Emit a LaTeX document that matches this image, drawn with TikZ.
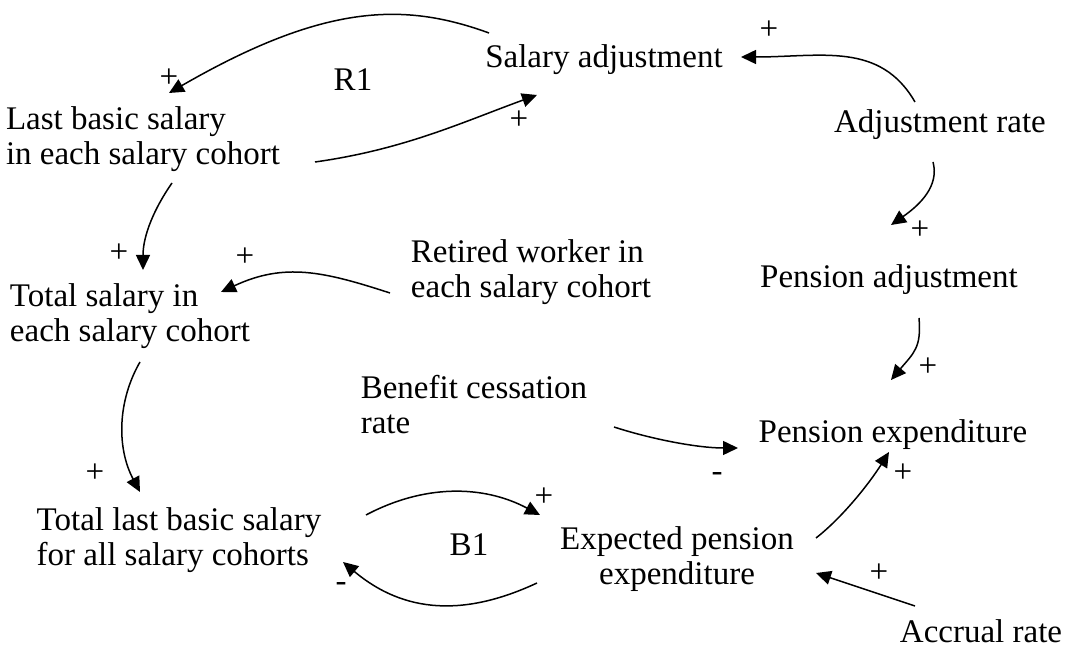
\documentclass[tikz,border=0pt]{standalone}
\usepackage{fontspec}
\setmainfont{Liberation Serif}
\usetikzlibrary{arrows.meta}

\begin{document}
\begin{tikzpicture}[x=0.5pt,y=0.5pt,
		every node/.style={inner sep=0pt,font=\fontsize{16.5}{17.5}\selectfont},
		var/.style={align=left},
		link/.style={line width=0.75pt,-{Triangle[length=7.5pt,width=7pt]}}]
		\useasboundingbox (0,0) rectangle (1066,648);
		
		% variables
		\node (sa) at (604,588) {Salary adjustment};
		\node[var] (lbs) at (143,509) {Last basic salary\\in each salary cohort};
		\node (ar) at (940,523) {Adjustment rate};
		\node[var] (rw) at (531,376) {Retired worker in\\each salary cohort};
		\node (pa) at (889,368) {Pension adjustment};
		\node[var] (ts) at (130,332) {Total salary in\\each salary cohort};
		\node[var] (bc) at (474,243) {Benefit cessation\\rate};
		\node (pe) at (893,213) {Pension expenditure};
		\node[var] (tl) at (179,108) {Total last basic salary\\for all salary cohorts};
		\node[align=center] (ep) at (677,89) {Expected pension\\expenditure};
		\node (acr) at (981,17) {Accrual rate};
		
		% loop names
		\node (r1) at (353,568) {R1};
		\node (b1) at (469,103) {B1};
		
		% links: R1 loop
		\draw[link] ([shift={(-115,27)}]sa.center) .. controls +(160:90) and +(30:180) .. ([shift={(26,46)}]lbs.center);
		\draw[link] ([shift={(172,-23)}]lbs.center) .. controls +(8:90) and +(200:80) .. ([shift={(-67,-35)}]sa.center);
		\draw[link] ([shift={(-25,23)}]ar.center) .. controls +(120:70) and +(0:80) .. ([shift={(137,3)}]sa.center);
		\draw[link] ([shift={(-7,-37)}]ar.center) .. controls +(-75:25) and +(35:35) .. ([shift={(2,55)}]pa.center);
		\draw[link] ([shift={(30,-38)}]pa.center) .. controls +(-85:30) and +(50:35) .. ([shift={(-2,55)}]pe.center);
		\draw[link] ([shift={(29,-44)}]lbs.center) .. controls +(235:30) and +(90:35) .. ([shift={(13,46)}]ts.center);
		\draw[link] ([shift={(-141,-21)}]rw.center) .. controls +(162:70) and +(25:70) .. ([shift={(91,24)}]ts.center);
		\draw[link] ([shift={(10,-46)}]ts.center) .. controls +(240:45) and +(118:50) .. ([shift={(-39,48)}]tl.center);
		\draw[link] ([shift={(140,-22)}]bc.center) .. controls +(-18:40) and +(180:40) .. ([shift={(-155,-13)}]pe.center);
		
		% links: B1 loop
		\draw[link] ([shift={(187,25)}]tl.center) .. controls +(28:65) and +(152:65) .. ([shift={(-137,44)}]ep.center);
		\draw[link] ([shift={(-140,-24)}]ep.center) .. controls +(205:80) and +(-40:80) .. ([shift={(164,-22)}]tl.center);
		\draw[link] ([shift={(139,21)}]ep.center) .. controls +(38:35) and +(238:35) .. ([shift={(-4,-17)}]pe.center);
		\draw[link] ([shift={(-66,25)}]acr.center) -- ([shift={(139,-14)}]ep.center);
		
		% polarities
		\node (s1) at (169,570) {+};
		\node (s2) at (519,528) {+};
		\node (s3) at (769,618) {+};
		\node (s4) at (920,418) {+};
		\node (s5) at (928,281) {+};
		\node (s6) at (119,395) {+};
		\node (s7) at (245,391) {+};
		\node (s8) at (95,175) {+};
		\node (s9) at (717,171) {-};
		\node (s10) at (544,151) {+};
		\node (s11) at (341,61) {-};
		\node (s12) at (903,175) {+};
		\node (s13) at (879,75) {+};
	\end{tikzpicture}
\end{document}
